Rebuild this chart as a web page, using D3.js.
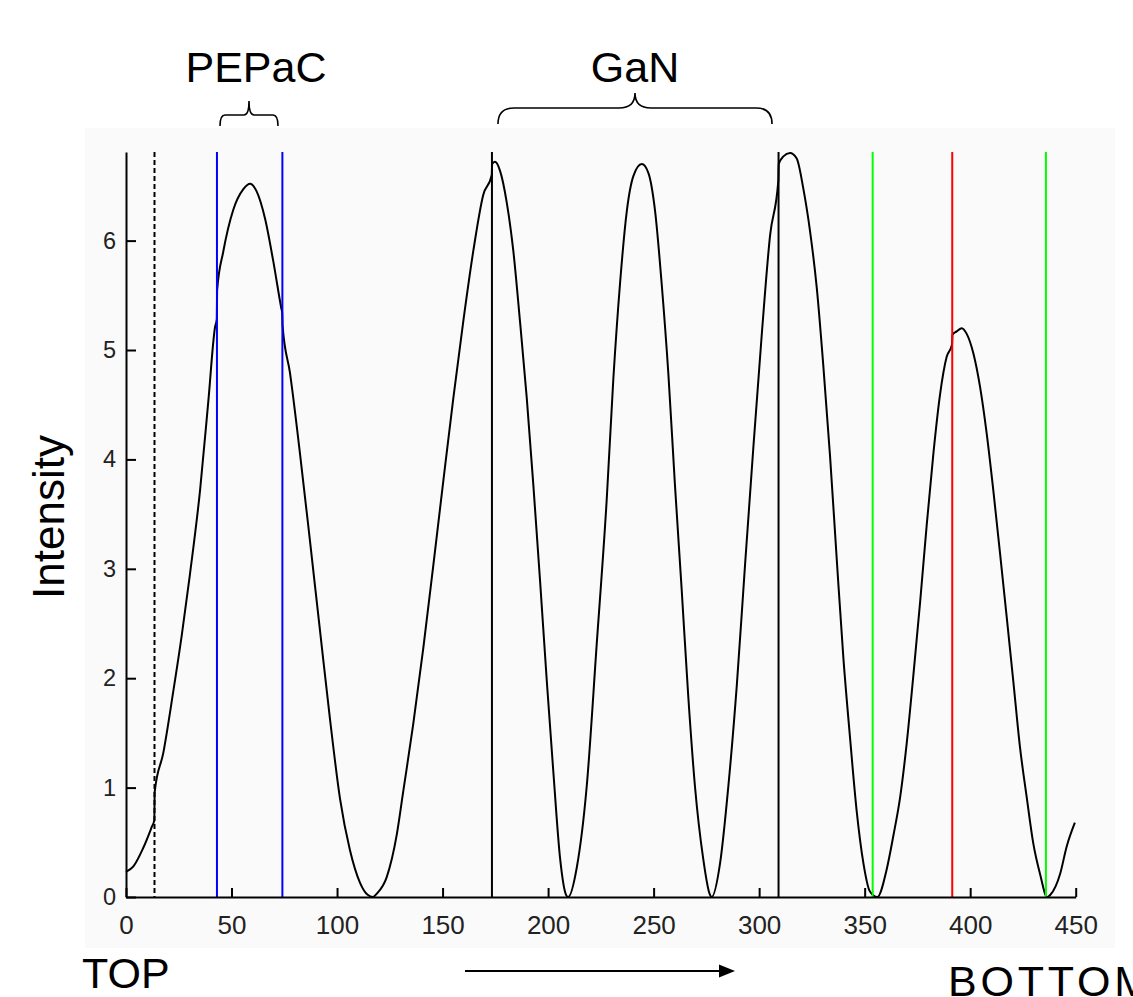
<!DOCTYPE html>
<html><head><meta charset="utf-8">
<script src="https://cdn.jsdelivr.net/npm/d3@7"></script>
<style>body{margin:0;background:#fff}svg{display:block}text{font-family:"Liberation Sans",Arial,sans-serif}</style>
</head><body>
<svg id="c" width="1133" height="997"></svg>
<script>
// depth position (x) and intensity (y) of the reflectance curve
const depth = [0,3.5,8.2,12.2,13.4,13.6,17.7,22.4,26.4,30.3,35.1,39.0,42.2,43.0,43.2,46.1,50.8,55.6,58.8,61.9,65.9,69.8,73.6,74.0,74.2,77.7,82.4,87.2,91.9,96.7,101.4,106.1,110.9,114.5,117.0,118.8,123.5,128.3,131.4,136.1,140.9,145.6,150.4,155.1,159.8,164.6,169.3,173.3,173.5,174.8,177.2,180.4,183.5,186.7,189.9,193.0,196.2,199.4,202.5,205.7,208.5,209.5,213.6,218.3,223.0,227.8,230.9,234.1,237.3,240.4,244.4,247.5,250.7,253.8,257.0,260.1,263.3,266.4,269.6,273.5,276.5,277.5,281.5,285.4,289.4,293.3,297.3,301.2,305.2,309.1,309.3,311.5,314.6,317.8,320.9,324.1,327.3,330.4,333.6,336.7,339.9,343.1,346.2,349.4,352.5,356.0,360.4,363.6,366.8,369.9,373.1,376.3,379.4,382.6,385.7,388.9,391.4,391.6,393.6,396.0,398.3,401.5,404.7,407.8,411.0,414.1,417.3,420.5,423.6,426.8,429.9,433.1,436.5,438.0,442.6,445.7,449.6];
const intensity = [0.23,0.28,0.45,0.64,0.70,0.96,1.32,1.88,2.39,2.95,3.72,4.53,5.21,5.28,5.55,5.90,6.28,6.47,6.52,6.45,6.20,5.81,5.38,5.34,5.22,4.79,4.06,3.25,2.44,1.62,0.90,0.43,0.13,0.02,0.0,0.03,0.18,0.57,0.97,1.58,2.28,3.03,3.81,4.56,5.26,5.91,6.42,6.60,6.70,6.72,6.64,6.35,5.91,5.26,4.56,3.77,2.89,1.97,1.14,0.35,0.02,0.0,0.27,1.01,2.30,3.64,4.73,5.61,6.27,6.59,6.70,6.62,6.27,5.61,4.78,3.77,2.81,1.84,1.01,0.35,0.03,0.0,0.31,1.01,1.93,3.03,4.12,5.13,6.05,6.55,6.70,6.77,6.80,6.75,6.48,6.09,5.57,4.86,4.03,3.11,2.19,1.45,0.79,0.31,0.05,0.0,0.25,0.56,0.91,1.40,2.03,2.70,3.40,4.06,4.59,4.94,5.05,5.14,5.17,5.20,5.15,4.97,4.66,4.24,3.71,3.15,2.56,1.96,1.37,0.91,0.49,0.21,0.0,0.02,0.21,0.46,0.68];

// interface markers (vertical lines)
const markerPos = [13.5, 43.1, 74.1, 173.4, 309.2, 353.8, 391.5, 435.9];
const markerColor = ["#000000","#0000ff","#0000ff","#000000","#000000","#00ff00","#ff0000","#00ff00"];
const markerDashed = [true,false,false,false,false,false,false,false];

const xTicks = [0,50,100,150,200,250,300,350,400,450];
const yTicks = [0,1,2,3,4,5,6];

const groupLabels = ["PEPaC","GaN"];

const svg = d3.select("#c");
const x = d3.scaleLinear().domain([0,450]).range([126,1075.7]);
const y = d3.scaleLinear().domain([0,6.81]).range([897,152]);

// light figure background
svg.append("rect").attr("x",85).attr("y",128).attr("width",1030).attr("height",820).attr("fill","#fafafa");

// curve
const pts = depth.map((d,i)=>[d,intensity[i]]);
svg.append("path").datum(pts)
  .attr("d", d3.line().x(d=>x(d[0])).y(d=>y(d[1])).curve(d3.curveMonotoneX))
  .attr("fill","none").attr("stroke","#000").attr("stroke-width",2);

// vertical marker lines
svg.append("g").selectAll("line").data(markerPos).join("line")
  .attr("x1",d=>x(d)).attr("x2",d=>x(d))
  .attr("y1",y(6.81)).attr("y2",y(0))
  .attr("stroke",(d,i)=>markerColor[i])
  .attr("stroke-width",2)
  .attr("stroke-dasharray",(d,i)=>markerDashed[i]?"5,3":null);

// axes
const gx = svg.append("g").attr("transform",`translate(0,${y(0)})`)
  .call(d3.axisBottom(x).tickValues(xTicks).tickSize(-9).tickSizeOuter(0).tickPadding(19));
const gy = svg.append("g").attr("transform",`translate(${x(0)},0)`)
  .call(d3.axisLeft(y).tickValues(yTicks).tickSize(-10).tickSizeOuter(0).tickPadding(10).tickFormat(d3.format("d")));
[gx,gy].forEach(g=>{
  g.select(".domain").attr("stroke","#000").attr("stroke-width",2);
  g.selectAll(".tick line").attr("stroke","#000").attr("stroke-width",2);
  g.selectAll(".tick text").attr("fill","#222").attr("font-family","'Liberation Sans',Arial,sans-serif");
});
gx.selectAll(".tick text").attr("font-size",26);
gy.selectAll(".tick text").attr("font-size",23.5);

// y label
svg.append("text").attr("transform","translate(64,517) rotate(-90)")
  .attr("text-anchor","middle").attr("font-size",44).attr("fill","#000").text("Intensity");

// TOP / BOTTOM + arrow (BOTTOM runs off the right edge, as in the source)
svg.append("text").attr("x",82).attr("y",988).attr("font-size",43).attr("fill","#000").text("TOP");
svg.append("text").attr("x",948).attr("y",996).attr("font-size",43).attr("letter-spacing",3.8).attr("fill","#000").text("BOTTOM");
svg.append("line").attr("x1",465).attr("x2",722).attr("y1",971).attr("y2",971).attr("stroke","#000").attr("stroke-width",2);
svg.append("path").attr("d","M719,964.5 L735,971 L719,977.5 Z").attr("fill","#000");

// group braces and labels
const braceY = [{end:126,mid:115,tip:101,r:5,labelY:82},{end:124,mid:108,tip:93,r:16,labelY:82}];
const braceX0 = [220, 498], braceX1 = [278, 772], braceXT = [249, 635];
groupLabels.forEach((lab,i)=>{
  const b = braceY[i], x0 = braceX0[i], x1 = braceX1[i], xt = braceXT[i], r = b.r;
  const p = `M${x0},${b.end} Q${x0},${b.mid} ${x0+r},${b.mid} L${xt-r},${b.mid} Q${xt},${b.mid} ${xt},${b.tip} Q${xt},${b.mid} ${xt+r},${b.mid} L${x1-r},${b.mid} Q${x1},${b.mid} ${x1},${b.end}`;
  svg.append("path").attr("d",p).attr("fill","none").attr("stroke","#000").attr("stroke-width",1.6);
  svg.append("text").attr("x",xt+ (i===0?7:0)).attr("y",b.labelY).attr("text-anchor","middle")
    .attr("font-size",43).attr("fill","#000").text(lab);
});
</script>
</body></html>
